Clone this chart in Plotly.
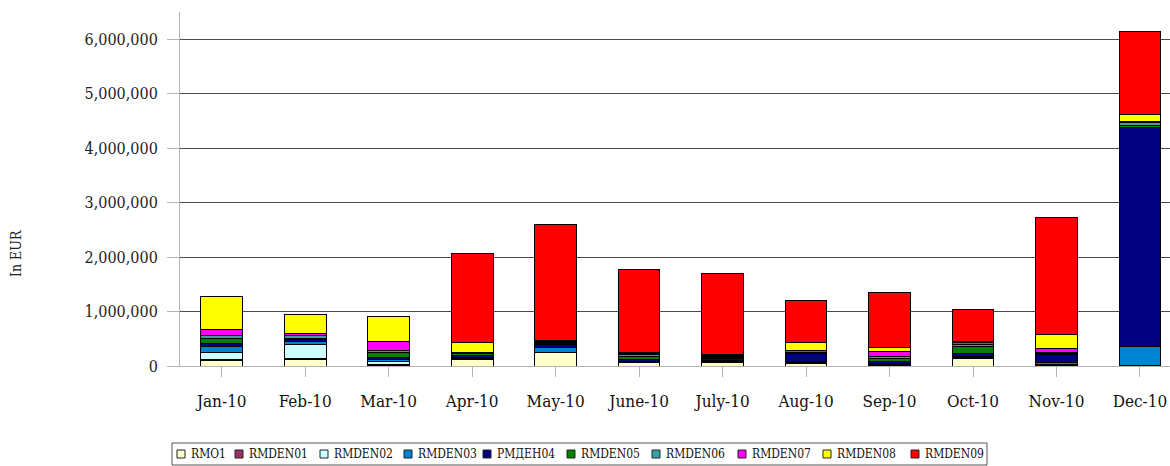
import plotly.graph_objects as go

# Monthly amounts per cost centre, in EUR
months = ["Jan-10", "Feb-10", "Mar-10", "Apr-10", "May-10", "June-10",
          "July-10", "Aug-10", "Sep-10", "Oct-10", "Nov-10", "Dec-10"]

rmo1 =    [100000, 128000, 15000, 128000, 240000, 60000, 60000, 55000, 10000, 135000, 15000, 5000]
rmden01 = [22000, 10000, 5000, 5000, 5000, 5000, 5000, 10000, 5000, 10000, 10000, 0]
rmden02 = [117000, 257000, 55000, 8000, 5000, 5000, 10000, 5000, 20000, 5000, 5000, 0]
rmden03 = [110000, 49000, 49000, 20000, 98000, 5000, 20000, 10000, 15000, 19000, 40000, 345000]
rmden04 = [73000, 43000, 37000, 30000, 45000, 40000, 40000, 158000, 40000, 55000, 150000, 4035000]
rmden05 = [80000, 18000, 92000, 30000, 20000, 55000, 15000, 10000, 50000, 125000, 10000, 30000]
rmden06 = [55000, 49000, 37000, 30000, 25000, 35000, 25000, 5000, 40000, 40000, 10000, 60000]
rmden07 = [110000, 37000, 159000, 5000, 5000, 30000, 10000, 25000, 80000, 50000, 85000, 20000]
rmden08 = [611000, 355000, 460000, 177000, 30000, 20000, 30000, 150000, 76000, 20000, 250000, 118000]
rmden09 = [0, 0, 0, 1635000, 2127000, 1519000, 1485000, 777000, 1011000, 576000, 2153000, 1534000]

series_names = ["RMO1", "RMDEN01", "RMDEN02", "RMDEN03", "РМДЕН04",
                "RMDEN05", "RMDEN06", "RMDEN07", "RMDEN08", "RMDEN09"]
series_values = [rmo1, rmden01, rmden02, rmden03, rmden04,
                 rmden05, rmden06, rmden07, rmden08, rmden09]
series_colors = ["#FFFFCC", "#993366", "#CCFFFF", "#0084D1", "#000080",
                 "#007F00", "#33A3A3", "#FF00FF", "#FFFF00", "#FF0000"]

FONT = "DejaVu Serif Condensed, DejaVu Serif, serif"

# Page geometry (pixels) of the plotting area
W, H = 1170, 466
PL, PT, PB = 180, 12, 366          # left edge, top edge, bottom edge of plot area
PW, PH = W - PL, PB - PT


def px_x(x):
    return (x - PL) / PW


def px_y(y):
    return (PB - y) / PH


fig = go.Figure()
for name, vals, col in zip(series_names, series_values, series_colors):
    fig.add_trace(go.Bar(
        x=months, y=vals, name=name, width=0.5,
        marker=dict(color=col, line=dict(color="#000000", width=1)),
        showlegend=False,
    ))

# Boxed legend strip beneath the chart
legend_box = (172, 443, 987, 465)
legend_text_left = [189, 247, 332, 416, 495, 579, 664, 750, 835, 923]
legend_mid = 454
shapes = [dict(
    type="rect", xref="paper", yref="paper", layer="above",
    x0=px_x(legend_box[0]), x1=px_x(legend_box[2]),
    y0=px_y(legend_box[3]), y1=px_y(legend_box[1]),
    line=dict(color="#555555", width=1), fillcolor="rgba(0,0,0,0)",
)]
annotations = []
for name, col, tx in zip(series_names, series_colors, legend_text_left):
    sx = tx - 8
    shapes.append(dict(
        type="rect", xref="paper", yref="paper", layer="above",
        x0=px_x(sx - 4), x1=px_x(sx + 4),
        y0=px_y(legend_mid + 4), y1=px_y(legend_mid - 4),
        line=dict(color="#222222", width=1), fillcolor=col,
    ))
    annotations.append(dict(
        text=name, xref="paper", yref="paper",
        x=px_x(tx), y=px_y(legend_mid),
        xanchor="left", yanchor="middle", showarrow=False,
        font=dict(size=12, family=FONT, color="#111111"),
    ))

annotations.append(dict(
    text="In EUR", textangle=-90,
    xref="paper", yref="paper",
    x=px_x(16), y=px_y(254),
    xanchor="center", yanchor="middle",
    showarrow=False,
    font=dict(size=14, family=FONT, color="#222222"),
))

fig.update_layout(
    width=W, height=H,
    barmode="stack",
    paper_bgcolor="white", plot_bgcolor="white",
    margin=dict(l=PL, r=0, t=PT, b=H - PB),
    font=dict(family=FONT, color="#222222"),
    showlegend=False,
    xaxis=dict(
        type="category",
        range=[-0.5, 11.36],
        showline=True, linecolor="#b3b3b3", linewidth=1,
        ticks="outside", ticklen=10, tickcolor="#b3b3b3",
        tickfont=dict(size=17, family=FONT, color="#111111"),
        ticklabelstandoff=10,
        showgrid=False,
    ),
    yaxis=dict(
        range=[0, 6500000],
        tickvals=[0, 1000000, 2000000, 3000000, 4000000, 5000000, 6000000],
        tickformat=",d",
        showline=True, linecolor="#b3b3b3", linewidth=1,
        ticks="outside", ticklen=12, tickcolor="#b3b3b3",
        tickfont=dict(size=16, family=FONT, color="#222222"),
        ticklabelstandoff=6,
        showgrid=True, gridcolor="#4a4a4a", gridwidth=1,
        zeroline=False,
    ),
    shapes=shapes,
    annotations=annotations,
)

fig.write_html("out.html")
